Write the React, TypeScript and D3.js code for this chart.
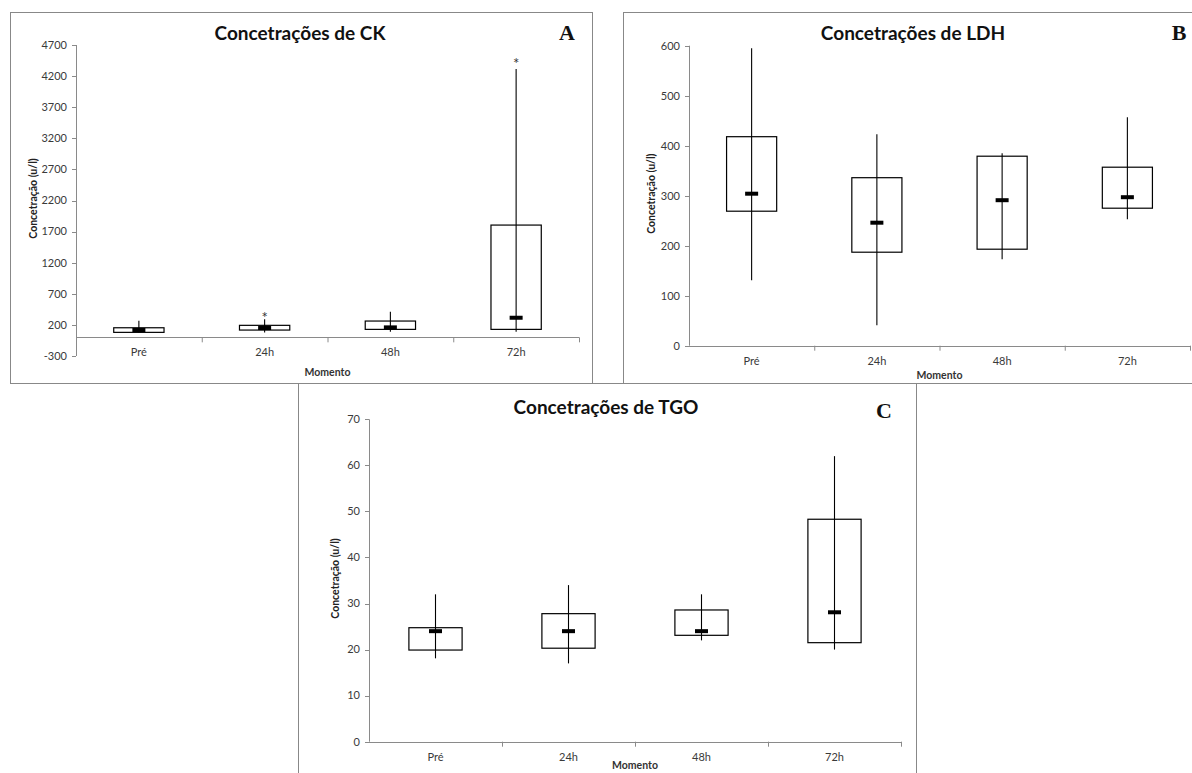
import React from 'react';
import * as d3 from 'd3';

const categories = ['Pré', '24h', '48h', '72h'];

// CK (u/l)
const ckMin = [75, 78, 90, 90];
const ckQ1 = [80, 117, 128, 128];
const ckMedian = [118, 150, 160, 315];
const ckQ3 = [154, 193, 262, 1805];
const ckMax = [267, 289, 412, 4313];
const ckStars = [null, 410, null, 4500];
const ckTicks = [-300, 200, 700, 1200, 1700, 2200, 2700, 3200, 3700, 4200, 4700];

// LDH (u/l)
const ldhMin = [131, 41, 173, 253];
const ldhQ1 = [269, 187, 193, 275];
const ldhMedian = [304, 246, 291, 297];
const ldhQ3 = [418, 336, 379, 357];
const ldhMax = [595, 423, 385, 457];
const ldhTicks = [0, 100, 200, 300, 400, 500, 600];

// TGO (u/l)
const tgoMin = [18.1, 17, 22, 20];
const tgoQ1 = [19.9, 20.3, 23.1, 21.5];
const tgoMedian = [24, 24, 24, 28.1];
const tgoQ3 = [24.75, 27.8, 28.6, 48.3];
const tgoMax = [32, 34, 32, 62];
const tgoTicks = [0, 10, 20, 30, 40, 50, 60, 70];

const FONT = 'Lato, "Open Sans", sans-serif';
const AXIS = '#8a8a8a';
const TICKTXT = '#3a3a3a';

type PanelProps = {
  title: string;
  letter: string;
  frame: { x: number; y: number; w: number; h: number };
  left: number;
  right: number;
  top: number;
  bottom: number;
  titleX: number;
  titleY: number;
  letterX: number;
  letterY: number;
  ylabX: number;
  momentoY: number;
  ticks: number[];
  mins: number[];
  q1: number[];
  med: number[];
  q3: number[];
  maxs: number[];
  stars?: (number | null)[];
};

const Panel = (p: PanelProps) => {
  const y = d3.scaleLinear()
    .domain([p.ticks[0], p.ticks[p.ticks.length - 1]])
    .range([p.bottom, p.top]);
  const x = d3.scaleBand<string>()
    .domain(categories)
    .range([p.left, p.right])
    .padding(0);
  const bw = x.bandwidth();
  const y0 = y(Math.max(0, p.ticks[0]));
  const boxW = bw * 0.4;

  return (
    <g>
      <rect x={p.frame.x + 0.5} y={p.frame.y + 0.5} width={p.frame.w} height={p.frame.h}
        fill="#fff" stroke="#888" strokeWidth={1} />
      <text x={p.titleX} y={p.titleY} textAnchor="middle" fontFamily={FONT}
        fontWeight="bold" fontSize={19} fill="#111">{p.title}</text>
      <text x={p.letterX} y={p.letterY} textAnchor="middle"
        fontFamily='"Liberation Serif", "Times New Roman", serif'
        fontWeight="bold" fontSize={22} fill="#111">{p.letter}</text>

      {/* y axis */}
      <line x1={p.left + 0.5} x2={p.left + 0.5} y1={p.top} y2={p.bottom} stroke={AXIS} />
      {p.ticks.map(t => (
        <g key={t}>
          <line x1={p.left - 4} x2={p.left} y1={Math.round(y(t)) + 0.5} y2={Math.round(y(t)) + 0.5} stroke={AXIS} />
          <text x={p.left - 9} y={y(t)} dy="0.35em" textAnchor="end"
            fontFamily={FONT} fontSize={11} fill={TICKTXT}>{t}</text>
        </g>
      ))}

      {/* x axis */}
      <line x1={p.left} x2={p.right} y1={Math.round(y0) + 0.5} y2={Math.round(y0) + 0.5} stroke={AXIS} />
      {categories.map(c => (
        <line key={'t' + c} x1={(x(c) as number) + bw + 0.5} x2={(x(c) as number) + bw + 0.5}
          y1={y0} y2={y0 + 5} stroke={AXIS} />
      ))}
      {categories.map(c => (
        <text key={'l' + c} x={(x(c) as number) + bw / 2} y={y0 + 15}
          dy="0.35em" textAnchor="middle" fontFamily={FONT} fontSize={11} fill={TICKTXT}>{c}</text>
      ))}

      <text x={(p.left + p.right) / 2} y={p.momentoY} dy="0.35em" textAnchor="middle"
        fontFamily={FONT} fontWeight="bold" fontSize={10.5} fill="#333">Momento</text>
      <text transform={`translate(${p.ylabX},${(p.top + p.bottom) / 2 - 2}) rotate(-90)`}
        dy="0.35em" textAnchor="middle" fontFamily={FONT} fontWeight="bold" fontSize={10.5}
        fill="#222">Concetração  (u/l)</text>

      {/* boxes */}
      {categories.map((c, i) => {
        const cx = (x(c) as number) + bw / 2;
        return (
          <g key={'b' + c}>
            <rect x={cx - boxW / 2} y={y(p.q3[i])} width={boxW}
              height={y(p.q1[i]) - y(p.q3[i])} fill="#fff" stroke="#000" strokeWidth={1.2} />
            <line x1={cx} x2={cx} y1={y(p.maxs[i])} y2={y(p.mins[i])} stroke="#000" strokeWidth={1.1} />
            <rect x={cx - 6.5} y={y(p.med[i]) - 2} width={13} height={4} fill="#000" />
            {p.stars && p.stars[i] != null && (
              <text x={cx} y={y(p.stars[i] as number)} dy="0.75em" textAnchor="middle"
                fontFamily={FONT} fontSize={15} fill="#333">*</text>
            )}
          </g>
        );
      })}
    </g>
  );
};

export default function App() {
  return (
    <svg width={1192} height={773} style={{ position: 'absolute', left: 0, top: 0, background: '#fff' }}>
      <rect width={1192} height={773} fill="#fff" />
      <Panel title="Concetrações de CK" letter="A"
        frame={{ x: 10, y: 12, w: 582, h: 371 }}
        left={76} right={579} top={45} bottom={356}
        titleX={300} titleY={40} letterX={567} letterY={40}
        ylabX={33} momentoY={372}
        ticks={ckTicks} mins={ckMin} q1={ckQ1} med={ckMedian} q3={ckQ3} maxs={ckMax}
        stars={ckStars} />
      <Panel title="Concetrações de LDH" letter="B"
        frame={{ x: 623, y: 12, w: 600, h: 371 }}
        left={689} right={1190} top={45.7} bottom={345.7}
        titleX={913} titleY={40} letterX={1179} letterY={40}
        ylabX={651} momentoY={375}
        ticks={ldhTicks} mins={ldhMin} q1={ldhQ1} med={ldhMedian} q3={ldhQ3} maxs={ldhMax} />
      <Panel title="Concetrações de TGO" letter="C"
        frame={{ x: 298, y: 383, w: 618, h: 420 }}
        left={369} right={901} top={419.3} bottom={741.7}
        titleX={606} titleY={414} letterX={884} letterY={418}
        ylabX={335} momentoY={765}
        ticks={tgoTicks} mins={tgoMin} q1={tgoQ1} med={tgoMedian} q3={tgoQ3} maxs={tgoMax} />
    </svg>
  );
}
